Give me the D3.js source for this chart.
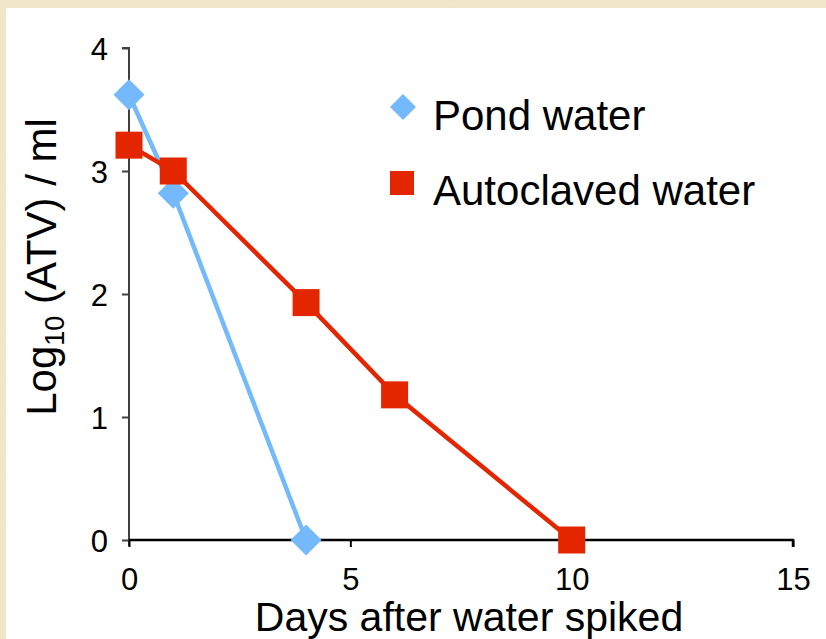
<!DOCTYPE html>
<html>
<head>
<meta charset="utf-8">
<script src="https://cdn.jsdelivr.net/npm/d3@7"></script>
<style>
  html, body { margin: 0; padding: 0; background: #efe4c3; }
  svg { display: block; }
  text { font-family: "Liberation Sans", Arial, Helvetica, sans-serif; fill: #000; }
</style>
</head>
<body>
<svg id="chart" width="826" height="639"></svg>
<script>
// Days after the water was spiked
const pondDays = [0, 1, 4];
const pondLog = [3.62, 2.82, 0];
const autoDays = [0, 1, 4, 6, 10];
const autoLog = [3.21, 3.0, 1.93, 1.18, 0];

const xTicks = [0, 5, 10, 15];
const yTicks = [0, 1, 2, 3, 4];
const seriesNames = ["Pond water", "Autoclaved water"];

const pondColor = "#74b9fb";
const autoColor = "#e42600";

const svg = d3.select("#chart");

// textured paper border
const defs = svg.append("defs");
const f = defs.append("filter").attr("id", "paper").attr("x", 0).attr("y", 0).attr("width", "100%").attr("height", "100%");
f.append("feTurbulence").attr("type", "fractalNoise").attr("baseFrequency", "0.08 0.5").attr("numOctaves", 2).attr("seed", 3).attr("result", "n");
f.append("feColorMatrix").attr("in", "n").attr("type", "matrix")
  .attr("values", "0 0 0 0 0.85  0 0 0 0 0.78  0 0 0 0 0.58  0 0 0 0.35 0").attr("result", "c");
f.append("feComposite").attr("in", "c").attr("in2", "SourceGraphic").attr("operator", "atop");

svg.append("rect").attr("width", 826).attr("height", 639).attr("fill", "#f1e7c9").attr("filter", "url(#paper)");
svg.append("rect").attr("x", 6).attr("y", 8).attr("width", 820).attr("height", 631).attr("fill", "#ffffff");

const x = d3.scaleLinear().domain([0, 15]).range([129, 793]);
const y = d3.scaleLinear().domain([0, 4]).range([540, 48]);

// y axis
const yAxis = svg.append("g").attr("transform", `translate(${x(0)},0)`)
  .call(d3.axisLeft(y).tickValues(yTicks).tickSize(7).tickPadding(14).tickFormat(d3.format("d")));
yAxis.select(".domain").attr("stroke", "#404040").attr("stroke-width", 2).attr("d", `M-7,${y(4)}H0V${y(0) + 6}`);
yAxis.selectAll(".tick line").attr("stroke", "#404040").attr("stroke-width", 2);
yAxis.selectAll(".tick text").attr("font-size", 31).attr("dy", "0.38em");

// x axis
const xAxis = svg.append("g").attr("transform", `translate(0,${y(0)})`)
  .call(d3.axisBottom(x).tickValues(xTicks).tickSize(7).tickPadding(21).tickFormat(d3.format("d")));
xAxis.select(".domain").attr("stroke", "#000").attr("stroke-width", 2.5).attr("d", `M${x(0)},0H${x(15)}V7`);
xAxis.selectAll(".tick line").attr("stroke", "#000").attr("stroke-width", 2);
xAxis.selectAll(".tick text").attr("font-size", 31);

// axis titles
svg.append("text").attr("x", 469).attr("y", 631).attr("text-anchor", "middle")
  .attr("font-size", 41).text("Days after water spiked");

const yTitle = svg.append("text").attr("transform", "translate(56,267) rotate(-90)")
  .attr("text-anchor", "middle").attr("font-size", 42);
yTitle.append("tspan").text("Log");
yTitle.append("tspan").attr("dy", 8).attr("font-size", 27).text("10");
yTitle.append("tspan").attr("dy", -8).text(" (ATV) / ml");

const line = d3.line().x(d => x(d[0])).y(d => y(d[1]));
const pond = pondDays.map((d, i) => [d, pondLog[i]]);
const auto = autoDays.map((d, i) => [d, autoLog[i]]);

svg.append("path").datum(pond).attr("d", line).attr("fill", "none")
  .attr("stroke", pondColor).attr("stroke-width", 4.5);
svg.append("path").datum(auto).attr("d", line).attr("fill", "none")
  .attr("stroke", autoColor).attr("stroke-width", 4.5);

const diamond = (cx, cy, r) => `M${cx},${cy - r}L${cx + r},${cy}L${cx},${cy + r}L${cx - r},${cy}Z`;

svg.append("g").selectAll("path").data(pond).join("path")
  .attr("d", d => diamond(x(d[0]), y(d[1]), 15.5)).attr("fill", pondColor);

svg.append("g").selectAll("rect").data(auto).join("rect")
  .attr("x", d => x(d[0]) - 13.5).attr("y", d => y(d[1]) - 13.5)
  .attr("width", 27).attr("height", 27).attr("fill", autoColor);

// legend
const lg = svg.append("g");
lg.append("path").attr("d", diamond(403, 107, 13)).attr("fill", pondColor);
lg.append("text").attr("x", 433).attr("y", 130).attr("font-size", 42).text(seriesNames[0]);
lg.append("rect").attr("x", 390).attr("y", 171).attr("width", 24).attr("height", 24).attr("fill", autoColor);
lg.append("text").attr("x", 433).attr("y", 205).attr("font-size", 42).text(seriesNames[1]);
</script>
</body>
</html>
